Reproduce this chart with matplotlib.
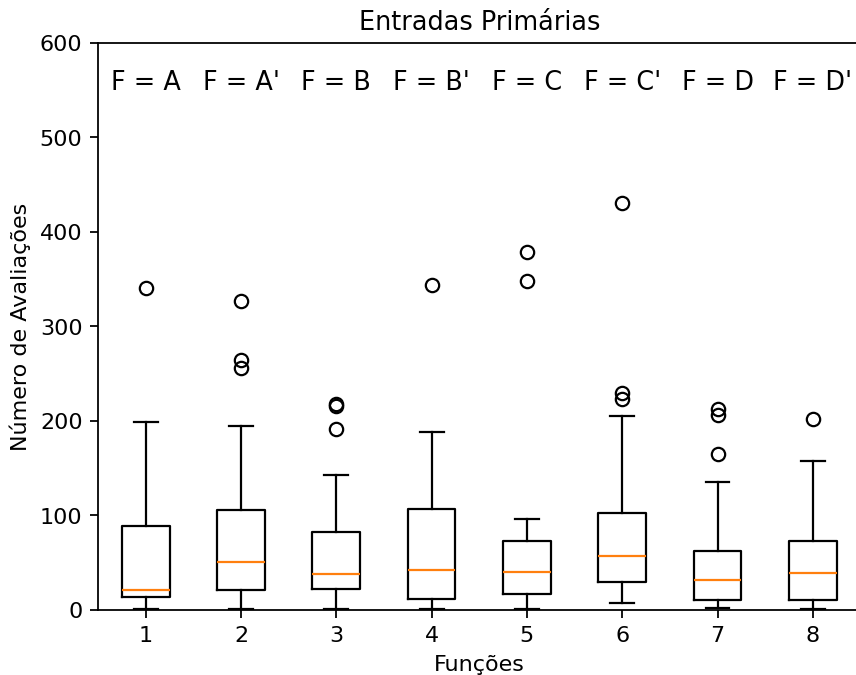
import matplotlib

matplotlib.use("Agg")
import matplotlib.pyplot as plt  # noqa: E402

# box statistics (number of evaluations)
whislo = [1, 1, 1, 1, 1, 7, 2, 1]
q1 = [14, 21, 22, 12, 17, 30, 11, 10]
med = [21, 51, 38, 42, 40, 57, 32, 39]
q3 = [89, 106, 82, 107, 73, 103, 62, 73]
whishi = [199, 195, 143, 188, 96, 205, 135, 158]
fliers = [
    [340],
    [327, 264, 256],
    [218, 216, 191],
    [344],
    [379, 348],
    [430, 229, 223],
    [213, 206, 165],
    [202],
]
func_names = ["A", "A'", "B", "B'", "C", "C'", "D", "D'"]

DPI = 160
W, H = 856, 675
fig = plt.figure(figsize=((W + 0.5) / DPI, (H + 0.5) / DPI), dpi=DPI)
ax = fig.add_axes([98 / W, 65 / H, (860 - 98) / W, (610 - 43) / H])

stats = []
for i in range(len(med)):
    stats.append(
        dict(
            whislo=whislo[i],
            q1=q1[i],
            med=med[i],
            q3=q3[i],
            whishi=whishi[i],
            fliers=fliers[i],
        )
    )
ax.bxp(stats, positions=range(1, len(stats) + 1))

for i, name in enumerate(func_names):
    ax.text(i + 1, 550, f"F = {name}", ha="center", fontsize=11.5)

ax.set_ylim(0, 600)
ax.set_xlim(0.5, 8.5)
ax.set_title("Entradas Primárias", fontsize=11.5)
ax.set_xlabel("Funções")
ax.set_ylabel("Número de Avaliações")

fig.savefig("out.png", dpi=DPI)
